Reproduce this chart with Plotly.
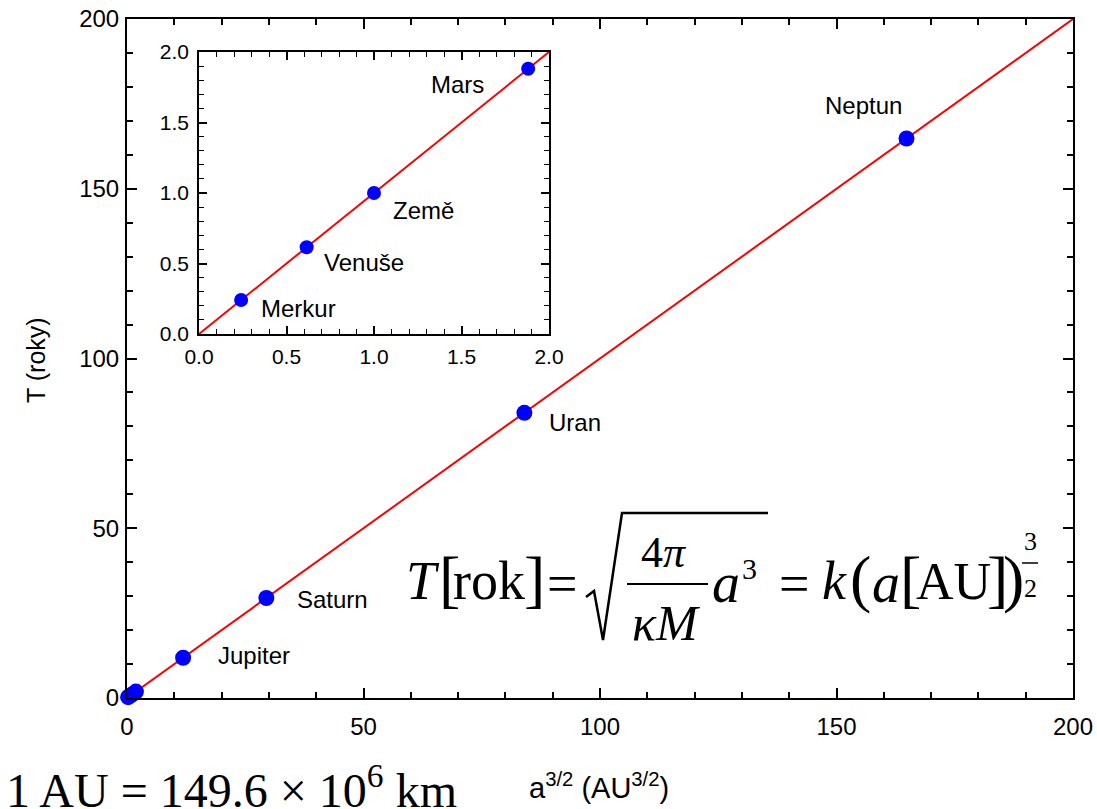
import plotly.graph_objects as go

W, H = 1097, 809

# ---- data: Kepler's third law, a^(3/2) in AU^(3/2) vs T in years ----
planets = ["Merkur", "Venuše", "Země", "Mars", "Jupiter", "Saturn", "Uran", "Neptun"]
a32 = [0.2408, 0.6152, 1.0, 1.881, 11.86, 29.46, 84.01, 164.8]
T_years = [0.2408, 0.6152, 1.0, 1.881, 11.86, 29.46, 84.01, 164.8]
inner_planets = ["Merkur", "Venuše", "Země", "Mars"]
outer_planets = ["Jupiter", "Saturn", "Uran", "Neptun"]
fit_x_main = [0, 200]
fit_y_main = [0, 200]
fit_x_inset = [0, 2]
fit_y_inset = [0, 2]
main_ticks = [0, 50, 100, 150, 200]
inset_ticks = [0.0, 0.5, 1.0, 1.5, 2.0]

SANS = "Liberation Sans, Arial, sans-serif"
SERIF = "Liberation Serif, Times New Roman, serif"
BLUE = "#0000ff"
RED = "#ff0000"


def px(x):
    return x / W


def py(y):
    return 1 - y / H


fig = go.Figure()

# main chart
fig.add_trace(go.Scatter(x=fit_x_main, y=fit_y_main, mode="lines",
                         line=dict(color=RED, width=2), xaxis="x", yaxis="y",
                         showlegend=False, hoverinfo="skip"))
fig.add_trace(go.Scatter(x=a32, y=T_years, mode="markers",
                         marker=dict(color=BLUE, size=16), xaxis="x", yaxis="y",
                         cliponaxis=False, showlegend=False, text=planets))

# inset chart
idx_in = [planets.index(p) for p in inner_planets]
fig.add_trace(go.Scatter(x=fit_x_inset, y=fit_y_inset, mode="lines",
                         line=dict(color=RED, width=2), xaxis="x2", yaxis="y2",
                         showlegend=False, hoverinfo="skip"))
fig.add_trace(go.Scatter(x=[a32[i] for i in idx_in], y=[T_years[i] for i in idx_in],
                         mode="markers", marker=dict(color=BLUE, size=14),
                         xaxis="x2", yaxis="y2", cliponaxis=False,
                         showlegend=False, text=inner_planets))

axis_common = dict(showline=True, linecolor="black", mirror="ticks",
                   showgrid=False, zeroline=False, ticks="inside",
                   tickcolor="black", color="black", automargin=False)

fig.update_layout(
    width=W, height=H,
    margin=dict(l=0, r=0, t=0, b=0, autoexpand=False),
    paper_bgcolor="white", plot_bgcolor="white",
    font=dict(family=SANS, color="black"),
    xaxis=dict(domain=[px(127), px(1073)], range=[0, 200], anchor="y",
               tickvals=main_ticks, ticklen=10, tickwidth=2, linewidth=2,
               ticklabelstandoff=6,
               minor=dict(dtick=10, ticklen=6, tickwidth=1.5, ticks="inside", tickcolor="black"),
               tickfont=dict(size=24, family=SANS), **axis_common),
    yaxis=dict(domain=[py(698), py(19)], range=[0, 200], anchor="x",
               tickvals=main_ticks, ticklen=10, tickwidth=2, linewidth=2,
               ticklabelstandoff=1,
               minor=dict(dtick=10, ticklen=6, tickwidth=1.5, ticks="inside", tickcolor="black"),
               tickfont=dict(size=24, family=SANS), **axis_common),
    xaxis2=dict(domain=[px(199), px(549)], range=[0, 2], anchor="y2",
                tickvals=inset_ticks, tickformat=".1f", ticklen=8, tickwidth=1.5, linewidth=1.5,
                ticklabelstandoff=3,
                minor=dict(dtick=0.1, ticklen=5, tickwidth=1.2, ticks="inside", tickcolor="black"),
                tickfont=dict(size=21, family=SANS), **axis_common),
    yaxis2=dict(domain=[py(334), py(52)], range=[0, 2], anchor="x2",
                tickvals=inset_ticks, tickformat=".1f", ticklen=8, tickwidth=1.5, linewidth=1.5,
                ticklabelstandoff=4,
                minor=dict(dtick=0.1, ticklen=5, tickwidth=1.2, ticks="inside", tickcolor="black"),
                tickfont=dict(size=21, family=SANS), **axis_common),
)

annotations = []

# planet labels (positioned relative to their points)
label_offsets = {
    "Jupiter": ("left", 33, 2),
    "Saturn": ("left", 29, -2),
    "Uran": ("left", 23, -10),
    "Neptun": ("right", -3, 33),
    "Merkur": ("left", 18, -8),
    "Venuše": ("left", 15, -15),
    "Země": ("left", 17, -17),
    "Mars": ("right", -42, -16),
}
for name, xv, yv in zip(planets, a32, T_years):
    anchor, xs, ys = label_offsets[name]
    ref = ("x2", "y2") if name in inner_planets else ("x", "y")
    annotations.append(dict(x=xv, y=yv, xref=ref[0], yref=ref[1], text=name,
                            showarrow=False, xanchor=anchor, yanchor="middle",
                            xshift=xs, yshift=ys,
                            font=dict(family=SANS, size=24, color="black")))

# axis titles
annotations.append(dict(x=px(36), y=py(360), xref="paper", yref="paper",
                        text="T (roky)", textangle=-90, showarrow=False,
                        xanchor="center", yanchor="middle",
                        font=dict(family=SANS, size=25, color="black")))
annotations.append(dict(x=px(599), y=py(786), xref="paper", yref="paper",
                        text="a<sup>3/2</sup> (AU<sup>3/2</sup>)", showarrow=False,
                        xanchor="center", yanchor="middle",
                        font=dict(family=SANS, size=29, color="black")))
annotations.append(dict(x=px(4), y=py(787), xref="paper", yref="paper",
                        text="1 AU = 149.6 × 10<sup>6</sup> km", showarrow=False,
                        xanchor="left", yanchor="middle",
                        font=dict(family=SERIF, size=48, color="black")))

# formula pieces: (text, x_px, y_px, size, xanchor)
formula = [
    ("<i>T</i>", 404, 581, 54, "left"),
    ("[", 437, 578, 64, "left"),
    ("rok", 451, 581, 54, "left"),
    ("]", 522, 578, 64, "left"),
    ("=", 545, 584, 54, "left"),
    ("4<i>π</i>", 664, 552, 44, "center"),
    ("<i>κM</i>", 666, 623, 50, "center"),
    ("<i>a</i>", 710, 583, 56, "left"),
    ("3", 740, 568, 30, "left"),
    ("=", 777, 584, 54, "left"),
    ("<i>k</i>", 820, 581, 54, "left"),
    ("(", 848, 578, 64, "left"),
    ("<i>a</i>", 870, 583, 56, "left"),
    ("[", 898, 578, 64, "left"),
    ("AU", 914, 581, 52, "left"),
    ("]", 985, 578, 64, "left"),
    (")", 1001, 578, 64, "left"),
    ("3", 1030, 541, 26, "center"),
    ("2", 1030, 588, 26, "center"),
]
for t, x, y, s, xa in formula:
    annotations.append(dict(x=px(x), y=py(y), xref="paper", yref="paper", text=t,
                            showarrow=False, xanchor=xa, yanchor="middle",
                            font=dict(family=SERIF, size=s, color="black")))

shapes = [
    # radical sign
    dict(type="path", xref="paper", yref="paper",
         path=f"M {px(586)},{py(597)} L {px(594)},{py(591)} L {px(603)},{py(640)} "
              f"L {px(622)},{py(513)} L {px(768)},{py(513)}",
         line=dict(color="black", width=2.5)),
    # fraction bar 4π / κM
    dict(type="line", xref="paper", yref="paper", x0=px(627), x1=px(708),
         y0=py(584), y1=py(584), line=dict(color="black", width=2)),
    # exponent fraction bar
    dict(type="line", xref="paper", yref="paper", x0=px(1022), x1=px(1038),
         y0=py(563), y1=py(563), line=dict(color="black", width=1.5)),
]

fig.update_layout(annotations=annotations, shapes=shapes)
fig.write_html("out.html", config={"displayModeBar": False},
               post_script="document.body.style.margin='0';document.body.style.overflow='hidden';")
